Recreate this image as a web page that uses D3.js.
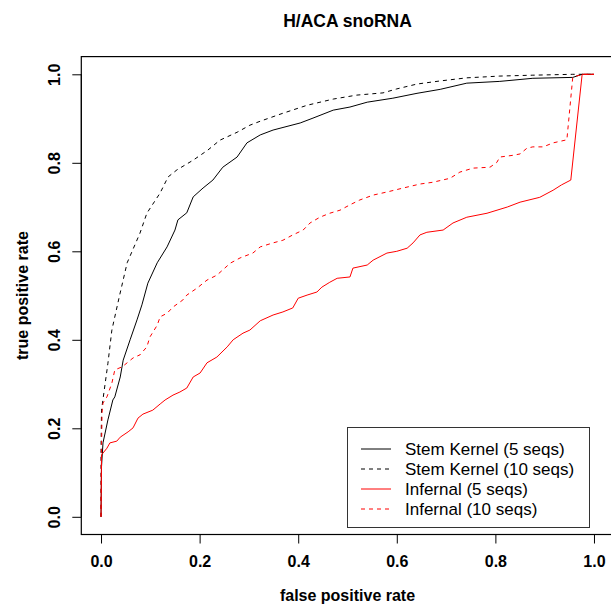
<!DOCTYPE html>
<html lang="en">
<head>
<meta charset="UTF-8">
<title>H/ACA snoRNA</title>
<script src="https://d3js.org/d3.v7.min.js"></script>
<style>
  body { margin: 0; background: #fff; }
  svg text { font-family: "Liberation Sans", Arial, Helvetica, sans-serif; }
</style>
</head>
<body>
<div id="chart"></div>
<script>

// ROC curves, [false positive rate, true positive rate]
const stemKernel5 = [[0,0],[0.001,0.113],[0.004,0.167],[0.014,0.219],[0.024,0.264],[0.028,0.271],[0.039,0.316],
  [0.045,0.354],[0.059,0.400],[0.073,0.445],[0.083,0.479],[0.095,0.528],[0.114,0.574],[0.134,0.610],[0.150,0.648],
  [0.156,0.671],[0.174,0.687],[0.187,0.723],[0.207,0.743],[0.227,0.761],[0.247,0.790],[0.276,0.813],[0.296,0.845],
  [0.323,0.863],[0.349,0.874],[0.404,0.890],[0.430,0.901],[0.471,0.919],[0.505,0.926],[0.540,0.937],[0.592,0.946],
  [0.641,0.957],[0.688,0.966],[0.742,0.980],[0.809,0.984],[0.876,0.991],[0.957,0.993],[0.976,1],[1,1]];

const stemKernel10 = [[0,0],[0,0.15],[0.001,0.241],[0.014,0.347],[0.022,0.422],[0.037,0.497],[0.053,0.574],
  [0.079,0.641],[0.093,0.686],[0.120,0.732],[0.136,0.768],[0.154,0.784],[0.187,0.806],[0.217,0.829],[0.241,0.851],
  [0.276,0.869],[0.302,0.885],[0.323,0.894],[0.369,0.912],[0.418,0.930],[0.471,0.944],[0.519,0.953],[0.572,0.958],
  [0.600,0.967],[0.641,0.978],[0.688,0.985],[0.742,0.992],[0.809,0.996],[0.876,0.998],[0.957,1],[1,1]];

const infernal5 = [[0,0],[0.001,0.140],[0.004,0.144],[0.012,0.155],[0.018,0.167],[0.032,0.171],[0.039,0.180],
  [0.055,0.192],[0.065,0.201],[0.075,0.223],[0.085,0.232],[0.105,0.241],[0.120,0.255],[0.130,0.264],[0.146,0.275],
  [0.160,0.282],[0.174,0.291],[0.187,0.316],[0.201,0.325],[0.215,0.348],[0.235,0.361],[0.256,0.384],[0.268,0.400],
  [0.288,0.415],[0.302,0.422],[0.323,0.443],[0.349,0.456],[0.369,0.463],[0.389,0.472],[0.400,0.494],[0.418,0.501],
  [0.438,0.508],[0.448,0.519],[0.464,0.530],[0.479,0.539],[0.505,0.542],[0.511,0.562],[0.540,0.569],[0.552,0.580],
  [0.580,0.596],[0.600,0.600],[0.621,0.607],[0.633,0.619],[0.647,0.637],[0.661,0.643],[0.694,0.648],[0.714,0.664],
  [0.742,0.677],[0.783,0.686],[0.824,0.700],[0.850,0.711],[0.890,0.722],[0.917,0.738],[0.934,0.750],[0.953,0.761],
  [0.976,1],[1,1]];

const infernal10 = [[0,0],[0.001,0.144],[0.002,0.234],[0.004,0.257],[0.012,0.271],[0.022,0.302],[0.028,0.332],
  [0.043,0.339],[0.053,0.348],[0.065,0.359],[0.079,0.366],[0.093,0.384],[0.099,0.406],[0.114,0.433],[0.120,0.452],
  [0.134,0.460],[0.146,0.474],[0.166,0.490],[0.174,0.501],[0.195,0.517],[0.215,0.535],[0.235,0.546],[0.262,0.573],
  [0.282,0.585],[0.308,0.596],[0.323,0.610],[0.349,0.619],[0.369,0.625],[0.389,0.637],[0.410,0.648],[0.424,0.664],
  [0.444,0.677],[0.464,0.686],[0.485,0.693],[0.505,0.705],[0.525,0.716],[0.552,0.727],[0.580,0.734],[0.613,0.743],
  [0.647,0.752],[0.673,0.756],[0.708,0.765],[0.728,0.779],[0.755,0.788],[0.789,0.790],[0.803,0.801],[0.809,0.813],
  [0.836,0.817],[0.850,0.820],[0.864,0.833],[0.876,0.836],[0.897,0.836],[0.917,0.845],[0.945,0.852],[0.957,0.994],
  [0.978,1],[1,1]];

const legendLabels = ["Stem Kernel (5 seqs)", "Stem Kernel (10 seqs)", "Infernal (5 seqs)", "Infernal (10 seqs)"];
const tickValues = [0, 0.2, 0.4, 0.6, 0.8, 1.0];

const series = [
  {data: stemKernel5, color: "#000000", dash: null},
  {data: stemKernel10, color: "#000000", dash: "4,4"},
  {data: infernal5, color: "#ff0000", dash: null},
  {data: infernal10, color: "#ff0000", dash: "4,4"}
];

const W = 611, H = 605;
const plot = {left: 81.3, right: 613.7, top: 56.6, bottom: 534.5};

const x = d3.scaleLinear().domain([-0.04, 1.04]).range([plot.left, plot.right]);
const y = d3.scaleLinear().domain([-0.04, 1.04]).range([plot.bottom, plot.top]);

const svg = d3.select("#chart").append("svg")
  .attr("width", W).attr("height", H);

// curves
const line = d3.line().x(d => x(d[0])).y(d => y(d[1]));
svg.selectAll("path.roc")
  .data(series)
  .enter()
  .append("path")
  .attr("class", "roc")
  .attr("d", d => line(d.data))
  .attr("fill", "none")
  .attr("stroke", d => d.color)
  .attr("stroke-width", 1)
  .attr("stroke-dasharray", d => d.dash);

// box
svg.append("rect")
  .attr("x", plot.left).attr("y", plot.top)
  .attr("width", plot.right - plot.left).attr("height", plot.bottom - plot.top)
  .attr("fill", "none").attr("stroke", "#000").attr("stroke-width", 1.2);

// axes
const fmt = d3.format(".1f");
const xAxis = svg.append("g")
  .attr("transform", `translate(0,${plot.bottom})`)
  .call(d3.axisBottom(x).tickValues(tickValues).tickFormat(fmt).tickSize(9).tickPadding(12));
const yAxis = svg.append("g")
  .attr("transform", `translate(${plot.left},0)`)
  .call(d3.axisLeft(y).tickValues(tickValues).tickFormat(fmt).tickSize(9).tickPadding(10));

[xAxis, yAxis].forEach(g => {
  g.select(".domain").attr("d", g === xAxis
    ? `M${x(0)},0H${x(1)}` : `M0,${y(0)}V${y(1)}`)
    .attr("stroke", "#000");
  g.selectAll(".tick line").attr("stroke", "#000");
  g.selectAll("text")
    .attr("fill", "#000")
    .style("font-size", "16px")
    .style("font-weight", "bold");
});

yAxis.selectAll(".tick text")
  .attr("x", null).attr("dy", null)
  .attr("text-anchor", "middle")
  .attr("transform", "translate(-21,0) rotate(-90)");

// titles
svg.append("text")
  .attr("x", (plot.left + plot.right) / 2).attr("y", 27)
  .attr("text-anchor", "middle")
  .style("font-size", "17.5px").style("font-weight", "bold")
  .text("H/ACA snoRNA");

svg.append("text")
  .attr("x", (plot.left + plot.right) / 2).attr("y", 601)
  .attr("text-anchor", "middle")
  .style("font-size", "16px").style("font-weight", "bold")
  .text("false positive rate");

svg.append("text")
  .attr("transform", `translate(28,${(plot.top + plot.bottom) / 2}) rotate(-90)`)
  .attr("text-anchor", "middle")
  .style("font-size", "16px").style("font-weight", "bold")
  .text("true positive rate");

// legend
const legend = svg.append("g");
legend.append("rect")
  .attr("x", 347.5).attr("y", 427.5).attr("width", 242).attr("height", 100)
  .attr("fill", "#fff").attr("stroke", "#333").attr("stroke-width", 1);

const rows = legend.selectAll("g.row")
  .data(series)
  .enter()
  .append("g")
  .attr("class", "row")
  .attr("transform", (d, i) => `translate(0,${449 + i * 20})`);

rows.append("line")
  .attr("x1", 361).attr("x2", 391).attr("y1", 0).attr("y2", 0)
  .attr("stroke", d => d.color)
  .attr("stroke-dasharray", d => d.dash);

rows.append("text")
  .attr("x", 405).attr("y", 6)
  .style("font-size", "17px")
  .text((d, i) => legendLabels[i]);

</script>
</body>
</html>
